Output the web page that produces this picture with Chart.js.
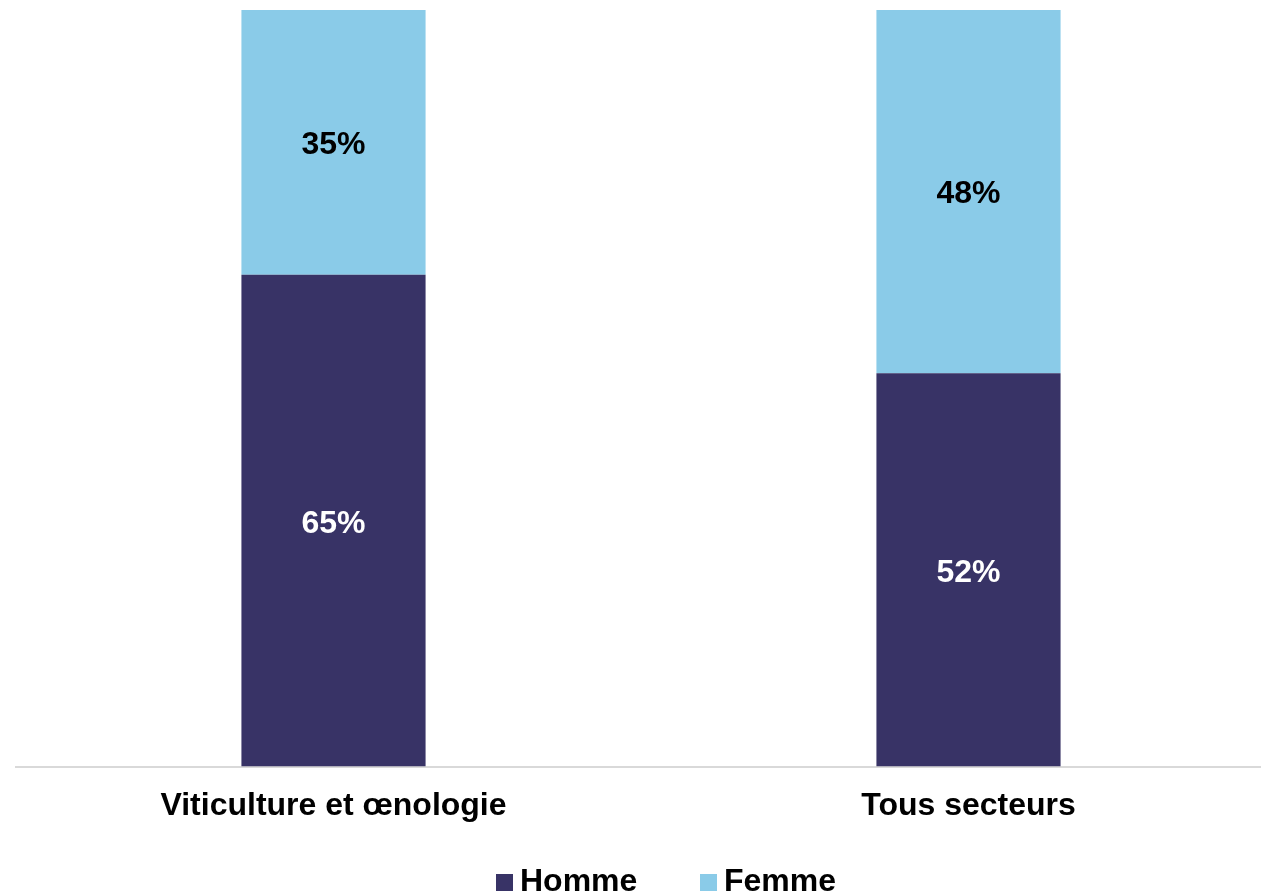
<!DOCTYPE html>
<html>
<head>
<meta charset="utf-8">
<script src="https://cdn.jsdelivr.net/npm/chart.js@4"></script>
<style>
  html, body { margin: 0; padding: 0; background: #fff; overflow: hidden; }
  #wrap { width: 1286px; height: 896px; position: relative; }
</style>
</head>
<body>
<div id="wrap"><canvas id="chart"></canvas></div>
<script>
// Chart data
const categories = ['Viticulture et œnologie', 'Tous secteurs'];
const seriesNames = ['Homme', 'Femme'];
const hommeValues = [65, 52];
const femmeValues = [35, 48];
const colors = ['#383366', '#8ACBE8'];
const labelColors = ['#ffffff', '#000000'];

const FONT = 'Liberation Sans, Arial, sans-serif';

// Draw the % inside each segment
const segmentLabels = {
    id: 'segmentLabels',
    afterDatasetsDraw(chart) {
        const ctx = chart.ctx;
        ctx.save();
        ctx.font = 'bold 32px ' + FONT;
        ctx.textAlign = 'center';
        ctx.textBaseline = 'middle';
        chart.data.datasets.forEach((ds, i) => {
            chart.getDatasetMeta(i).data.forEach((bar, j) => {
                const p = bar.getProps(['x', 'y', 'base'], true);
                ctx.fillStyle = labelColors[i];
                ctx.fillText(ds.data[j] + '%', p.x, (p.y + p.base) / 2 + 3);
            });
        });
        ctx.restore();
    }
};

// Legend at the bottom
const bottomLegend = {
    id: 'bottomLegend',
    afterDraw(chart) {
        const ctx = chart.ctx;
        ctx.save();
        ctx.font = 'bold 32px ' + FONT;
        ctx.textBaseline = 'middle';
        const y = 882;
        const starts = [496, 700];
        seriesNames.forEach((name, i) => {
            ctx.fillStyle = colors[i];
            ctx.fillRect(starts[i], y - 8, 17, 17);
            ctx.fillStyle = '#000';
            ctx.fillText(name, starts[i] + 24, y);
        });
        ctx.restore();
    }
};

new Chart(document.getElementById('chart'), {
    type: 'bar',
    data: {
        labels: categories,
        datasets: [
            { label: seriesNames[0], data: hommeValues, backgroundColor: colors[0] },
            { label: seriesNames[1], data: femmeValues, backgroundColor: colors[1] }
        ]
    },
    options: {
        responsive: true,
        maintainAspectRatio: false,
        animation: false,
        layout: { padding: { top: 10, left: 16, right: 0, bottom: 51 } },
        datasets: { bar: { categoryPercentage: 1, barPercentage: 0.29 } },
        plugins: {
            legend: { display: false },
            tooltip: { enabled: false }
        },
        scales: {
            x: {
                stacked: true,
                grid: { display: false, drawTicks: false },
                border: { display: true, color: '#d9d9d9', width: 2 },
                ticks: {
                    color: '#000',
                    padding: 20,
                    font: { family: FONT, size: 32, weight: 'bold' }
                }
            },
            y: {
                stacked: true,
                display: false,
                min: 0,
                max: 100
            }
        }
    },
    plugins: [segmentLabels, bottomLegend]
});
</script>
</body>
</html>
